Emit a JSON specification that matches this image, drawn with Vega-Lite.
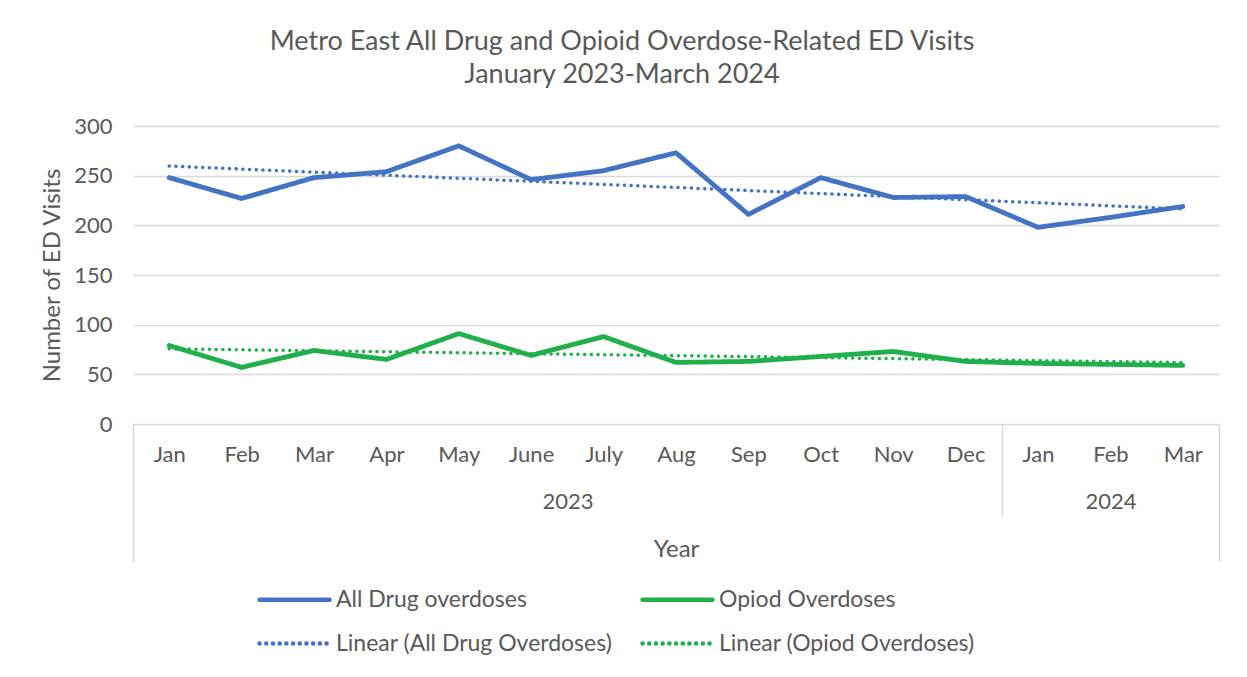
{
  "$schema": "https://vega.github.io/schema/vega-lite/v6.json",
  "width": 1086,
  "height": 298,
  "autosize": {"type": "none"},
  "padding": {"left": 133, "top": 126, "right": 28, "bottom": 253},
  "background": "white",
  "title": {
    "text": ["Metro East All Drug and Opioid Overdose-Related ED Visits", "January 2023-March 2024"],
    "anchor": "middle",
    "dx": -54,
    "offset": 5,
    "baseline": "alphabetic",
    "lineHeight": 33,
    "font": "Lato",
    "fontSize": 27,
    "fontWeight": "normal",
    "color": "#595959"
  },
  "data": {
    "values": [
      {"i": 1, "month": "Jan", "year": 2023, "series": "All Drug overdoses", "trend": "Linear (All Drug Overdoses)", "value": 248},
      {"i": 2, "month": "Feb", "year": 2023, "series": "All Drug overdoses", "trend": "Linear (All Drug Overdoses)", "value": 227},
      {"i": 3, "month": "Mar", "year": 2023, "series": "All Drug overdoses", "trend": "Linear (All Drug Overdoses)", "value": 248},
      {"i": 4, "month": "Apr", "year": 2023, "series": "All Drug overdoses", "trend": "Linear (All Drug Overdoses)", "value": 254},
      {"i": 5, "month": "May", "year": 2023, "series": "All Drug overdoses", "trend": "Linear (All Drug Overdoses)", "value": 280},
      {"i": 6, "month": "June", "year": 2023, "series": "All Drug overdoses", "trend": "Linear (All Drug Overdoses)", "value": 246},
      {"i": 7, "month": "July", "year": 2023, "series": "All Drug overdoses", "trend": "Linear (All Drug Overdoses)", "value": 255},
      {"i": 8, "month": "Aug", "year": 2023, "series": "All Drug overdoses", "trend": "Linear (All Drug Overdoses)", "value": 273},
      {"i": 9, "month": "Sep", "year": 2023, "series": "All Drug overdoses", "trend": "Linear (All Drug Overdoses)", "value": 211},
      {"i": 10, "month": "Oct", "year": 2023, "series": "All Drug overdoses", "trend": "Linear (All Drug Overdoses)", "value": 248},
      {"i": 11, "month": "Nov", "year": 2023, "series": "All Drug overdoses", "trend": "Linear (All Drug Overdoses)", "value": 228},
      {"i": 12, "month": "Dec", "year": 2023, "series": "All Drug overdoses", "trend": "Linear (All Drug Overdoses)", "value": 229},
      {"i": 13, "month": "Jan", "year": 2024, "series": "All Drug overdoses", "trend": "Linear (All Drug Overdoses)", "value": 198},
      {"i": 14, "month": "Feb", "year": 2024, "series": "All Drug overdoses", "trend": "Linear (All Drug Overdoses)", "value": 208},
      {"i": 15, "month": "Mar", "year": 2024, "series": "All Drug overdoses", "trend": "Linear (All Drug Overdoses)", "value": 219},
      {"i": 1, "month": "Jan", "year": 2023, "series": "Opiod Overdoses", "trend": "Linear (Opiod Overdoses)", "value": 79},
      {"i": 2, "month": "Feb", "year": 2023, "series": "Opiod Overdoses", "trend": "Linear (Opiod Overdoses)", "value": 57},
      {"i": 3, "month": "Mar", "year": 2023, "series": "Opiod Overdoses", "trend": "Linear (Opiod Overdoses)", "value": 74},
      {"i": 4, "month": "Apr", "year": 2023, "series": "Opiod Overdoses", "trend": "Linear (Opiod Overdoses)", "value": 65},
      {"i": 5, "month": "May", "year": 2023, "series": "Opiod Overdoses", "trend": "Linear (Opiod Overdoses)", "value": 91},
      {"i": 6, "month": "June", "year": 2023, "series": "Opiod Overdoses", "trend": "Linear (Opiod Overdoses)", "value": 69},
      {"i": 7, "month": "July", "year": 2023, "series": "Opiod Overdoses", "trend": "Linear (Opiod Overdoses)", "value": 88},
      {"i": 8, "month": "Aug", "year": 2023, "series": "Opiod Overdoses", "trend": "Linear (Opiod Overdoses)", "value": 62},
      {"i": 9, "month": "Sep", "year": 2023, "series": "Opiod Overdoses", "trend": "Linear (Opiod Overdoses)", "value": 63},
      {"i": 10, "month": "Oct", "year": 2023, "series": "Opiod Overdoses", "trend": "Linear (Opiod Overdoses)", "value": 68},
      {"i": 11, "month": "Nov", "year": 2023, "series": "Opiod Overdoses", "trend": "Linear (Opiod Overdoses)", "value": 73},
      {"i": 12, "month": "Dec", "year": 2023, "series": "Opiod Overdoses", "trend": "Linear (Opiod Overdoses)", "value": 63},
      {"i": 13, "month": "Jan", "year": 2024, "series": "Opiod Overdoses", "trend": "Linear (Opiod Overdoses)", "value": 61},
      {"i": 14, "month": "Feb", "year": 2024, "series": "Opiod Overdoses", "trend": "Linear (Opiod Overdoses)", "value": 60},
      {"i": 15, "month": "Mar", "year": 2024, "series": "Opiod Overdoses", "trend": "Linear (Opiod Overdoses)", "value": 59}
    ]
  },
  "encoding": {
    "y": {
      "field": "value",
      "type": "quantitative",
      "scale": {"domain": [0, 300], "nice": false, "zero": true},
      "axis": {
        "values": [0, 50, 100, 150, 200, 250, 300],
        "title": "Number of ED Visits",
        "grid": true,
        "gridColor": "#d9d9d9",
        "gridWidth": 1.3,
        "ticks": false,
        "domain": false,
        "labelPadding": 21,
        "titlePadding": 9
      }
    }
  },
  "layer": [
    {
      "transform": [{"filter": "datum.series === 'All Drug overdoses'"}],
      "mark": {"type": "line", "strokeWidth": 4.8, "strokeCap": "round", "strokeJoin": "round"},
      "encoding": {
        "x": {
          "field": "i",
          "type": "quantitative",
          "scale": {"domain": [0.5, 15.5], "nice": false, "zero": false},
          "axis": {
            "orient": "bottom",
            "values": [1, 2, 3, 4, 5, 6, 7, 8, 9, 10, 11, 12, 13, 14, 15],
            "labelExpr": "['Jan','Feb','Mar','Apr','May','June','July','Aug','Sep','Oct','Nov','Dec','Jan','Feb','Mar'][datum.value - 1]",
            "ticks": false,
            "domain": false,
            "grid": false,
            "labelPadding": 20,
            "title": null
          }
        },
        "color": {
          "field": "series",
          "type": "nominal",
          "scale": {
            "domain": ["All Drug overdoses", "Opiod Overdoses", "Linear (All Drug Overdoses)", "Linear (Opiod Overdoses)"],
            "range": ["#4472C4", "#1FB04C", "#4472C4", "#1FB04C"]
          },
          "legend": {"title": null, "encode": {"symbols": {"update": {"strokeCap": {"value": "round"}}}}}
        },
        "strokeDash": {
          "field": "series",
          "type": "nominal",
          "scale": {
            "domain": ["All Drug overdoses", "Opiod Overdoses", "Linear (All Drug Overdoses)", "Linear (Opiod Overdoses)"],
            "range": [[1, 0], [1, 0], [0.1, 6.6], [0.1, 6.6]]
          },
          "legend": {"title": null, "encode": {"symbols": {"update": {"strokeCap": {"value": "round"}}}}}
        }
      }
    },
    {
      "transform": [{"filter": "datum.series === 'Opiod Overdoses'"}],
      "mark": {"type": "line", "strokeWidth": 4.8, "strokeCap": "round", "strokeJoin": "round"},
      "encoding": {
        "x": {
          "field": "i",
          "type": "quantitative",
          "scale": {"domain": [0.5, 15.5], "nice": false, "zero": false},
          "axis": {
            "orient": "bottom",
            "values": [12.5],
            "labels": false,
            "ticks": true,
            "tickColor": "#d9d9d9",
            "tickWidth": 1.5,
            "tickSize": 93,
            "domain": false,
            "grid": false,
            "title": null
          }
        },
        "color": {"field": "series", "type": "nominal", "legend": {"title": null}},
        "strokeDash": {"field": "series", "type": "nominal", "legend": {"title": null}}
      }
    },
    {
      "transform": [
        {"filter": "datum.series === 'All Drug overdoses'"},
        {"regression": "value", "on": "i", "groupby": ["trend"]}
      ],
      "mark": {"type": "line", "strokeWidth": 3.5, "strokeCap": "round"},
      "encoding": {
        "x": {
          "field": "i",
          "type": "quantitative",
          "scale": {"domain": [0.5, 15.5], "nice": false, "zero": false},
          "axis": {
            "orient": "bottom",
            "values": [6.5, 14],
            "labelExpr": "datum.value < 12.5 ? '2023' : '2024'",
            "ticks": false,
            "domain": false,
            "grid": false,
            "labelPadding": 67,
            "title": "Year",
            "titlePadding": 25
          }
        },
        "color": {"field": "trend", "type": "nominal", "legend": {"title": null}},
        "strokeDash": {"field": "trend", "type": "nominal", "legend": {"title": null}}
      }
    },
    {
      "transform": [
        {"filter": "datum.series === 'Opiod Overdoses'"},
        {"regression": "value", "on": "i", "groupby": ["trend"]}
      ],
      "mark": {"type": "line", "strokeWidth": 3.5, "strokeCap": "round"},
      "encoding": {
        "x": {
          "field": "i",
          "type": "quantitative",
          "scale": {"domain": [0.5, 15.5], "nice": false, "zero": false},
          "axis": {
            "orient": "bottom",
            "values": [0.5, 15.5],
            "labels": false,
            "ticks": true,
            "tickColor": "#d9d9d9",
            "tickWidth": 1.5,
            "tickSize": 138,
            "domain": false,
            "grid": false,
            "title": null
          }
        },
        "color": {"field": "trend", "type": "nominal", "legend": {"title": null}},
        "strokeDash": {"field": "trend", "type": "nominal", "legend": {"title": null}}
      }
    }
  ],
  "resolve": {"axis": {"x": "independent"}},
  "config": {
    "font": "Lato",
    "view": {"stroke": null},
    "axis": {
      "labelFont": "Lato",
      "labelFontSize": 22,
      "labelColor": "#595959",
      "titleFont": "Lato",
      "titleFontSize": 24,
      "titleFontWeight": "normal",
      "titleColor": "#595959"
    },
    "legend": {
      "orient": "none",
      "legendX": 150,
      "legendY": 462,
      "direction": "horizontal",
      "columns": 2,
      "columnPadding": 20,
      "rowPadding": 20,
      "padding": 0,
      "symbolType": "M-14,0H14",
      "symbolSize": 25,
      "symbolStrokeWidth": 4.5,
      "labelOffset": 30,
      "labelFont": "Lato",
      "labelFontSize": 23,
      "labelColor": "#595959",
      "labelLimit": 400
    }
  }
}
